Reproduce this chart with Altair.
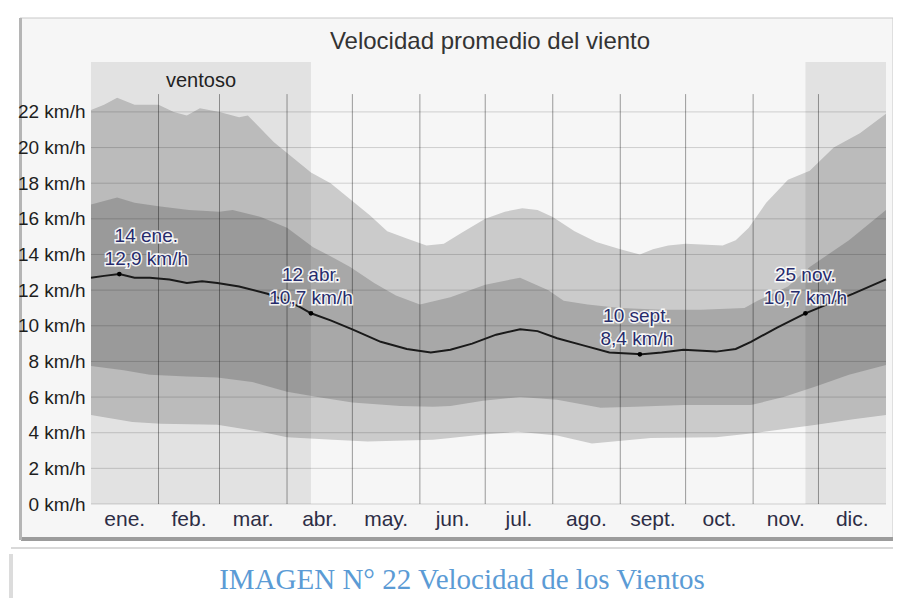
import altair as alt
import pandas as pd

# ---- data (day of year 0..365, km/h) ----
p90_days = [0, 6, 12, 20, 31, 38, 44, 50, 59, 68, 72, 84, 93, 101, 110, 119, 128, 136, 145, 154,
            162, 170, 181, 190, 198, 205, 212, 222, 232, 243, 252, 258, 265, 273, 290, 296, 302,
            310, 320, 330, 341, 353, 365]
p90 = [22.1, 22.4, 22.8, 22.4, 22.4, 22.0, 21.8, 22.2, 22.0, 21.7, 21.8, 20.3, 19.4, 18.6, 18.0,
       17.1, 16.2, 15.3, 14.9, 14.5, 14.6, 15.2, 16.0, 16.4, 16.6, 16.5, 16.1, 15.3, 14.7, 14.3,
       14.0, 14.3, 14.5, 14.6, 14.5, 14.8, 15.5, 16.9, 18.2, 18.7, 20.0, 20.8, 21.9]

p75_days = [0, 6, 12, 20, 31, 45, 59, 65, 78, 90, 102, 110, 119, 130, 140, 151, 165, 181, 197,
            210, 217, 228, 243, 262, 280, 300, 306, 320, 330, 348, 365]
p75 = [16.8, 17.0, 17.2, 16.9, 16.7, 16.5, 16.4, 16.5, 16.1, 15.5, 14.4, 13.9, 13.3, 12.4, 11.7,
       11.2, 11.6, 12.3, 12.7, 12.0, 11.4, 11.2, 11.0, 10.9, 10.9, 11.0, 11.4, 12.2, 13.3, 14.8, 16.5]

mean_days = [0, 6, 13, 20, 27, 36, 44, 51, 58, 68, 81, 90, 96, 101, 110, 120, 133, 145, 156, 165,
             175, 186, 197, 205, 214, 226, 238, 253, 262, 272, 287, 296, 303, 315, 328, 338, 350, 365]
mean = [12.7, 12.8, 12.9, 12.7, 12.7, 12.6, 12.4, 12.5, 12.4, 12.2, 11.8, 11.4, 11.05, 10.7, 10.3,
        9.8, 9.1, 8.7, 8.5, 8.65, 9.0, 9.5, 9.8, 9.7, 9.3, 8.9, 8.5, 8.4, 8.5, 8.65, 8.55, 8.7,
        9.1, 9.9, 10.7, 11.2, 11.8, 12.6]

p25_days = [0, 15, 27, 44, 58, 74, 90, 104, 120, 142, 157, 165, 180, 197, 214, 234, 250, 272, 303,
            318, 333, 348, 365]
p25 = [7.75, 7.5, 7.25, 7.15, 7.1, 6.85, 6.3, 6.0, 5.7, 5.5, 5.45, 5.5, 5.8, 6.0, 5.85, 5.4, 5.45,
       5.55, 5.55, 6.0, 6.6, 7.25, 7.8]

p10_days = [0, 19, 32, 58, 78, 90, 111, 127, 157, 165, 180, 196, 214, 230, 257, 287, 306, 333, 350, 365]
p10 = [5.0, 4.6, 4.5, 4.45, 4.05, 3.75, 3.6, 3.5, 3.6, 3.7, 3.9, 4.05, 3.85, 3.4, 3.7, 3.75, 4.0,
       4.45, 4.75, 5.0]

months = ["ene.", "feb.", "mar.", "abr.", "may.", "jun.", "jul.", "ago.", "sept.", "oct.", "nov.", "dic."]
month_starts = [0, 31, 59, 90, 120, 151, 181, 212, 243, 273, 304, 334, 365]

windy_start = [0, 328]
windy_end = [101, 365]

note_days = [13, 101, 252, 328]
note_vals = [12.9, 10.7, 8.4, 10.7]
note_dates = ["14 ene.", "12 abr.", "10 sept.", "25 nov."]
note_dx = [27, 0, -3, 0]

y_ticks = list(range(0, 23, 2))

TITLE = "Velocidad promedio del viento"
CAPTION = "IMAGEN N° 22 Velocidad de los Vientos"

# ---- layout ----
W, H = 795, 442
YMAX = 24.8
FONT = "Liberation Sans"
BG = "#f6f6f6"
OUTER = "#cbcbcb"
INNER = "#a8a8a8"

xs = alt.Scale(domain=[0, 365], nice=False, zero=False)
ys = alt.Scale(domain=[0, YMAX], nice=False, zero=True)
yaxis = alt.Axis(values=y_ticks, labelExpr="datum.value + ' km/h'", grid=False, ticks=False,
                 domain=False, labelFontSize=19, labelColor="#1e1e1e", labelFont=FONT,
                 labelPadding=6, title=None, zindex=2)


def X(f="d"):
    return alt.X(f, type="quantitative", scale=xs, axis=None)


def Y(f="v"):
    return alt.Y(f, type="quantitative", scale=ys, axis=yaxis)


def df(days, vals):
    return pd.DataFrame({"d": days, "v": vals})


one = pd.DataFrame({"a": [0]})

# frame / panel decoration
panel = alt.Chart(one).mark_rect(color=BG, stroke="#c8c8c8", strokeWidth=1).encode(
    x=alt.value(-71), x2=alt.value(802), y=alt.value(-44), y2=alt.value(476))
panel_shadow = alt.Chart(one).mark_rect(color="#9c9c9c").encode(
    x=alt.value(-70), x2=alt.value(802), y=alt.value(475), y2=alt.value(479))
panel_left = alt.Chart(one).mark_rect(color="#b5b5b5").encode(
    x=alt.value(-72), x2=alt.value(-69), y=alt.value(-44), y2=alt.value(478))
sep = alt.Chart(one).mark_rect(color="#d9d9d9").encode(
    x=alt.value(-80), x2=alt.value(802), y=alt.value(485), y2=alt.value(487))
chev = alt.Chart(one).mark_rect(color="#dcdcdc").encode(
    x=alt.value(-82), x2=alt.value(-78), y=alt.value(492), y2=alt.value(540))

a90 = alt.Chart(df(p90_days, p90)).mark_area(color=OUTER).encode(x=X(), y=Y())
a75 = alt.Chart(df(p75_days, p75)).mark_area(color=INNER).encode(x=X(), y=Y())
a25 = alt.Chart(df(p25_days, p25)).mark_area(color=OUTER).encode(x=X(), y=Y())
a10 = alt.Chart(df(p10_days, p10)).mark_area(color=BG).encode(x=X(), y=Y())

windy = alt.Chart(pd.DataFrame({"d": windy_start, "d2": windy_end, "lo": 0, "hi": YMAX})).mark_rect(
    color="black", opacity=0.08).encode(x=X(), x2="d2", y=Y("lo"), y2="hi")

hgrid = alt.Chart(pd.DataFrame({"v": y_ticks})).mark_rule(color="black", opacity=0.16, strokeWidth=1).encode(
    y=Y(), x=alt.value(0), x2=alt.value(W))
vgrid = alt.Chart(pd.DataFrame({"d": month_starts[1:-1], "lo": 0, "hi": 23})).mark_rule(
    color="black", opacity=0.38, strokeWidth=1).encode(x=X(), y=Y("lo"), y2="hi")

line = alt.Chart(df(mean_days, mean)).mark_line(color="#1a1a1a", strokeWidth=2).encode(x=X(), y=Y())

notes = pd.DataFrame({"d": note_days, "v": note_vals, "date": note_dates,
                      "val": [f"{v:.1f}".replace(".", ",") + " km/h" for v in note_vals],
                      "dx": note_dx})
dots = alt.Chart(notes).mark_point(filled=True, color="black", size=22, opacity=1).encode(x=X(), y=Y())

note_layers = []
for i in range(len(note_days)):
    sub = notes.iloc[[i]]
    for field, dy in (("date", -38), ("val", -15)):
        for halo in (True, False):
            kw = dict(font=FONT, fontSize=19, dx=int(note_dx[i]), dy=dy, baseline="middle", align="center")
            if halo:
                kw.update(stroke="white", strokeWidth=3, strokeOpacity=0.9, color="white")
            else:
                kw.update(color="#262b6b")
            note_layers.append(alt.Chart(sub).mark_text(**kw).encode(
                x=X(), y=Y(), text=alt.Text(field, type="nominal")))

mid = [(month_starts[i] + month_starts[i + 1]) / 2 for i in range(12)]
mlabels = alt.Chart(pd.DataFrame({"d": mid, "m": months})).mark_text(
    font=FONT, fontSize=21, color="#2d2d45", baseline="middle").encode(
    x=X(), y=alt.value(458), text="m:N")

title = alt.Chart(one).mark_text(text=TITLE, font=FONT, fontSize=24, color="#333",
                                 baseline="middle").encode(x=alt.value(399), y=alt.value(-20))
windy_lbl = alt.Chart(one).mark_text(text="ventoso", font=FONT, fontSize=20, color="#222",
                                     baseline="middle").encode(x=alt.value(110), y=alt.value(19))
caption = alt.Chart(one).mark_text(text=CAPTION, font="Liberation Serif", fontSize=29,
                                   color="#5b9bd5", baseline="middle").encode(
    x=alt.value(371), y=alt.value(518))

chart = alt.layer(
    panel, panel_shadow, panel_left, sep, chev,
    a90, a75, a25, a10, windy, hgrid, vgrid, line, dots, *note_layers,
    mlabels, title, windy_lbl, caption
).properties(
    width=W, height=H,
    padding={"left": 83, "top": 54, "right": 7, "bottom": 94},
    autosize=alt.AutoSizeParams(type="none"),
    background="white",
).configure_view(stroke=None)

chart.save("out.html", embed_options={"renderer": "svg", "actions": False})
